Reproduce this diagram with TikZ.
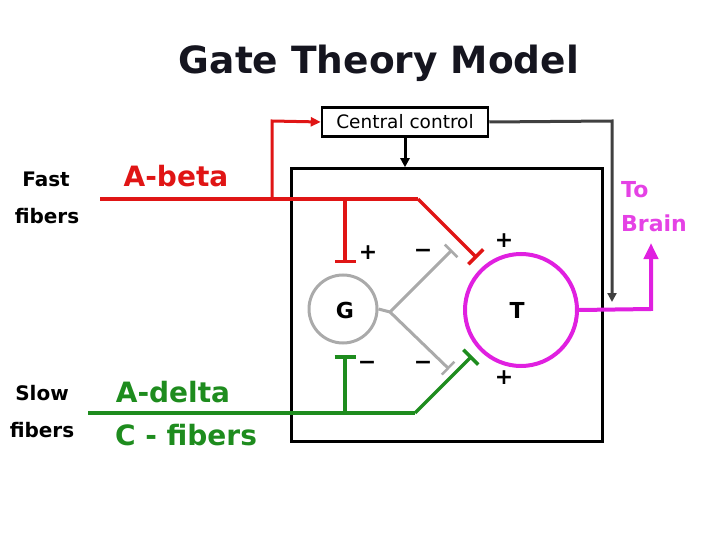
\documentclass[tikz,border=0pt]{standalone}
\usepackage{fontspec}
\setmainfont{DejaVu Sans}
\usetikzlibrary{arrows.meta}
\definecolor{fred}{HTML}{E01515}
\definecolor{fgreen}{HTML}{1E8C1E}
\definecolor{fmag}{HTML}{E020E0}
\definecolor{fgray}{HTML}{AAAAAA}
\definecolor{ftitle}{HTML}{15151F}
\tikzset{
  lbl/.style={font=\bfseries\fontsize{20}{22}\selectfont, anchor=base, inner sep=0pt},
  big/.style={font=\bfseries\fontsize{28}{30}\selectfont, anchor=base, inner sep=0pt},
  sgn/.style={font=\bfseries\fontsize{22}{22}\selectfont, inner sep=0pt},
  redl/.style={draw=fred, line width=3.5pt},
  greenl/.style={draw=fgreen, line width=3.5pt},
  grayl/.style={draw=fgray, line width=3pt},
  inhib/.style={-{Bar[width=21pt,line width=3.5pt]}},
}
\begin{document}
\begin{tikzpicture}[x=1pt,y=-1pt]
\useasboundingbox (0,0) rectangle (720,540);
% title
\node[anchor=base, inner sep=0pt, text=ftitle, font=\bfseries\fontsize{37.5}{40}\selectfont] (title) at (379,74) {Gate Theory Model};
% boxes
\node[draw, line width=2.5pt, minimum width=166pt, minimum height=29pt, inner sep=0pt, font=\fontsize{18.5}{20}\selectfont] (cc) at (405,122) {Central control};
\node[draw, line width=2.5pt, minimum width=311pt, minimum height=273pt, inner sep=0pt] (box) at (447,305) {};
% circles
\node[circle, draw=fgray, line width=3pt, minimum size=68pt, inner sep=0pt] (G) at (343,309) {};
\node[circle, draw=fmag, line width=4pt, minimum size=112pt, inner sep=0pt] (T) at (521,310) {};
\node[font=\bfseries\fontsize{22}{22}\selectfont, anchor=base, inner sep=0pt] (Gl) at (345,318) {G};
\node[font=\bfseries\fontsize{22}{22}\selectfont, anchor=base, inner sep=0pt] (Tl) at (517,318) {T};
% labels
\node[lbl] (fast) at (46,187) {Fast};
\node[lbl] (fib1) at (47,223) {fibers};
\node[lbl] (slow) at (42,400) {Slow};
\node[lbl] (fib2) at (42,437) {fibers};
\node[big, text=fred] (abeta) at (176,187) {A-beta};
\node[big, text=fgreen] (adelta) at (173,402) {A-delta};
\node[big, text=fgreen] (cfib) at (186,445) {C - fibers};
\node[font=\bfseries\fontsize{22}{24}\selectfont, text=fmag!85!white, anchor=base west, inner sep=0pt] (to) at (621,197) {To};
\node[font=\bfseries\fontsize{22}{24}\selectfont, text=fmag!85!white, anchor=base west, inner sep=0pt] (brain) at (621,232) {Brain};
% signs
\node[sgn] (s1) at (368,253) {+};
\node[sgn] (s2) at (423,253) {\textminus};
\node[sgn] (s3) at (504,241) {+};
\node[sgn] (s4) at (367,365) {\textminus};
\node[sgn] (s5) at (423,365) {\textminus};
\node[sgn] (s6) at (504,378) {+};
% coordinates
\coordinate (rs) at (100,199);
\coordinate (rj) at (272,199);
\coordinate (rb) at (345,199);
\coordinate (rk) at (418,199);
\coordinate (rt) at (477,258);
\coordinate (rbe) at (345,263);
\coordinate (ru) at (272,121);
\coordinate (gs) at (88,413);
\coordinate (gb) at (345,413);
\coordinate (gk) at (415,413);
\coordinate (gt) at (472,356);
\coordinate (gbe) at (345,355);
\coordinate (gv) at (390,312);
\coordinate (gu) at (452,250);
\coordinate (gd) at (449,369);
\coordinate (bk) at (612,121);
\coordinate (bt) at (612,302);
\coordinate (mk) at (651,309);
\coordinate (mt) at (651,243);
% red
\draw[redl] (rs) -- (rk);
\draw[redl, inhib] (rk) -- (rt);
\draw[redl, inhib] (rb) -- (rbe);
\draw[draw=fred, line width=3pt, -{Triangle[length=10pt,width=9pt]}] (rj) -- (ru) -- (cc.west);
% green
\draw[greenl] (gs) -- (gk);
\draw[greenl, inhib] (gk) -- (gt);
\draw[greenl, inhib] (gb) -- (gbe);
% gray
\draw[grayl] (G.east) -- (gv);
\draw[grayl, -{Bar[width=18pt,line width=2.5pt]}] (gv) -- (gu);
\draw[grayl, -{Bar[width=18pt,line width=2.5pt]}] (gv) -- (gd);
% black control
\draw[line width=3pt, -{Triangle[length=9pt,width=9pt]}] (cc.south) -- (box.north -| cc.south);
\draw[draw=black!75, line width=3pt, -{Triangle[length=9pt,width=9pt]}] (cc.east) -- (bk) -- (bt);
% magenta output
\draw[draw=fmag, line width=4pt, -{Triangle[length=16pt,width=14pt]}] (T.east) -- (mk) -- (mt);
\end{tikzpicture}
\end{document}
